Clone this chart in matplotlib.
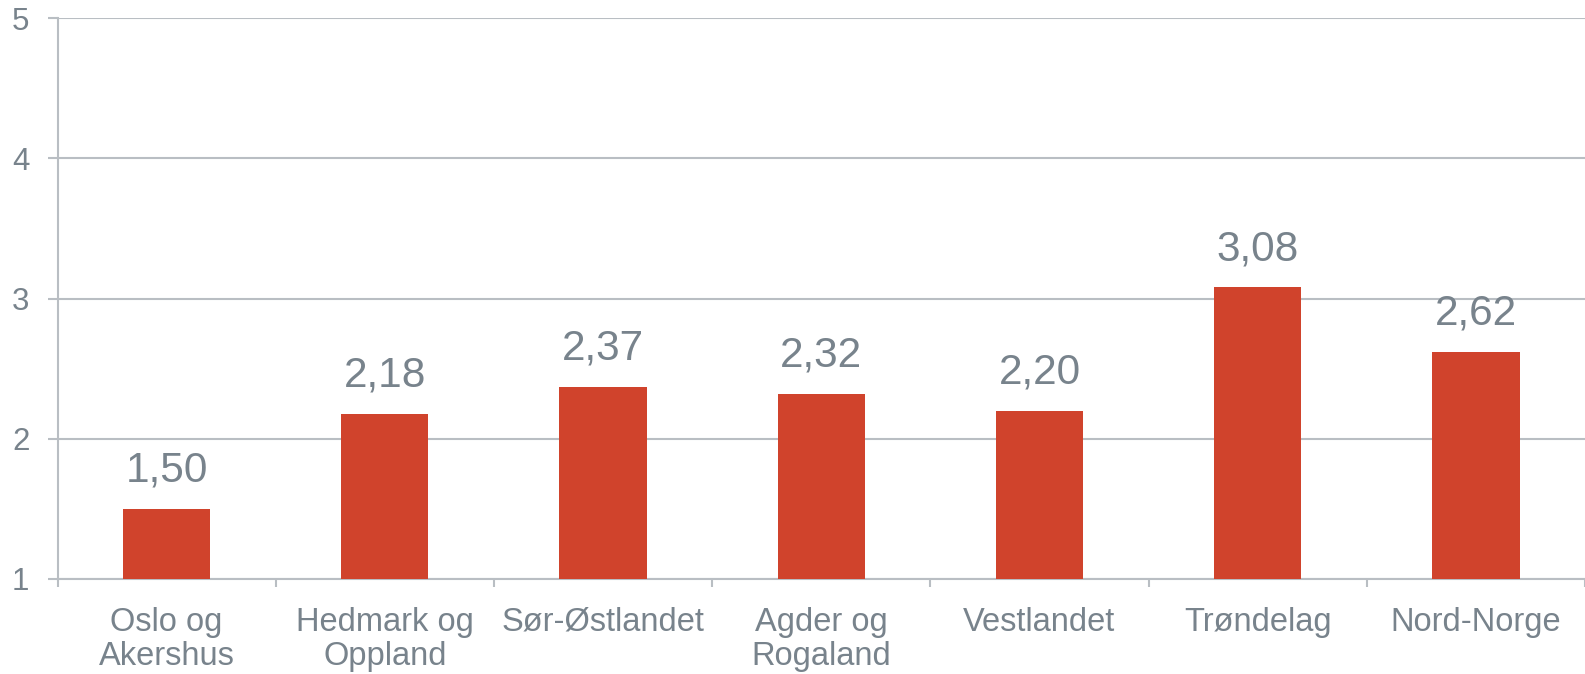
import matplotlib
matplotlib.use("Agg")
import matplotlib.pyplot as plt
import numpy as np

categories = ["Oslo og\nAkershus", "Hedmark og\nOppland", "Sør-Østlandet", "Agder og\nRogaland",
              "Vestlandet", "Trøndelag", "Nord-Norge"]
values = [1.50, 2.18, 2.37, 2.32, 2.20, 3.08, 2.62]
yticks = [1, 2, 3, 4, 5]

text_color = "#78838c"
grid_color = "#b9bec3"
bar_color = "#d0432c"

plt.rcParams['font.family'] = ['Liberation Sans', 'DejaVu Sans']

fig = plt.figure(figsize=(15.85, 6.74), dpi=100)
ax = fig.add_axes([57.5 / 1585, 1 - 579 / 674, 1 - 57.5 / 1585, (579 - 18) / 674])

x = np.arange(len(categories))
ax.bar(x, [v - 1 for v in values], bottom=1, width=0.4, color=bar_color, zorder=3)
for xi, v in zip(x, values):
    ax.annotate(f"{v:.2f}".replace(".", ","), (xi, v), xytext=(0, 13), textcoords="offset points",
                ha="center", va="bottom", fontsize=30.5, color=text_color)

ax.set_xlim(-0.5, len(categories) - 0.5)
ax.set_ylim(1, 5)
ax.set_yticks(yticks)
ax.set_yticklabels([str(t) for t in yticks])
ax.grid(axis="y", color=grid_color, linewidth=1.5, zorder=0)
ax.set_axisbelow(True)

ax.set_xticks(x)
ax.set_xticklabels(categories, fontsize=23.5, color=text_color, linespacing=1.14)
ax.set_xticks(np.arange(-0.5, len(categories)), minor=True)
ax.tick_params(axis="x", which="major", length=0, pad=20)
ax.tick_params(axis="x", which="minor", length=6, width=1.5, color=grid_color, direction="out")
ax.tick_params(axis="y", length=7.2, width=1.5, color=grid_color, labelsize=22.5, labelcolor=text_color, pad=13)

for s in ["top", "right"]:
    ax.spines[s].set_visible(False)
for s in ["left", "bottom"]:
    ax.spines[s].set_color(grid_color)
    ax.spines[s].set_linewidth(1.5)
ax.spines["left"].set_bounds(1, 5)

fig.savefig("out.png", dpi=100)
